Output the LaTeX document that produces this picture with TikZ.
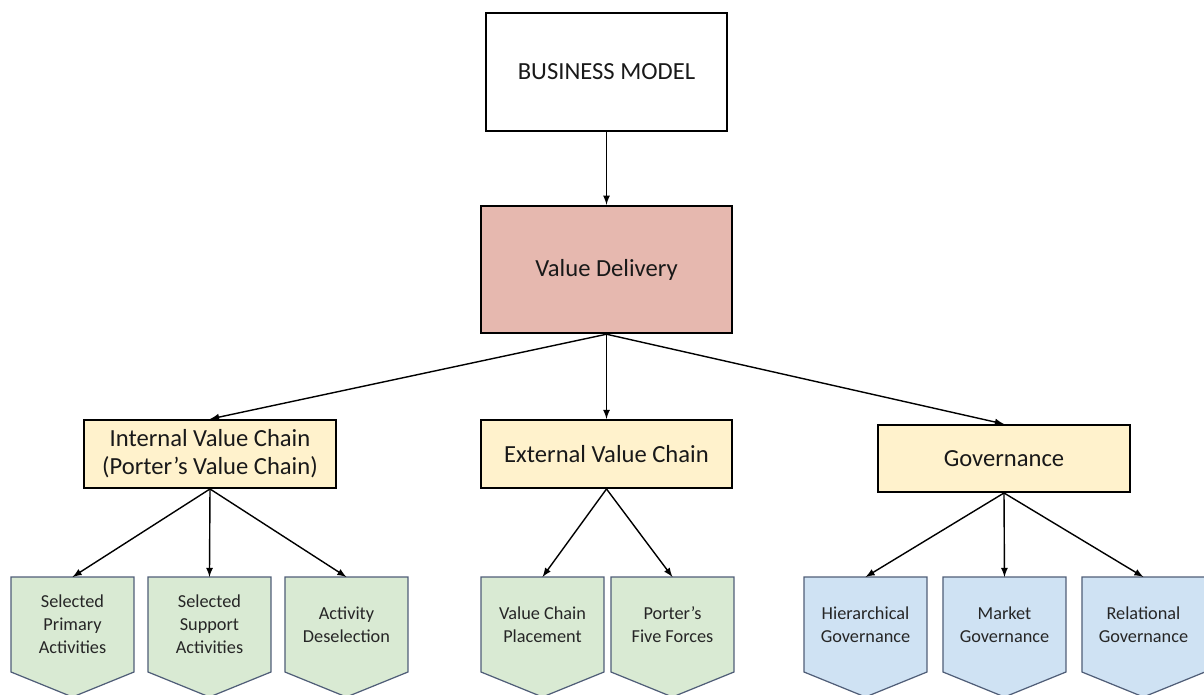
\documentclass[tikz,border=0pt]{standalone}
\usepackage{fontspec}
\setmainfont{Carlito}
\usetikzlibrary{calc,positioning,backgrounds}
\definecolor{vdred}{HTML}{E6B8AF}
\definecolor{chainyellow}{HTML}{FFF2CC}
\definecolor{leafgreen}{HTML}{D9EAD3}
\definecolor{leafblue}{HTML}{CFE2F3}
\definecolor{leafline}{RGB}{80,94,120}
\newcommand{\bigtxt}{\fontsize{14}{16}\selectfont}
\newcommand{\smalltxt}{\fontsize{10.4}{13.2}\selectfont}

\begin{document}
\begin{tikzpicture}[x=0.02cm,y=-0.02cm,
    box/.style={draw,rectangle,align=center,font=\bigtxt,text=black!90,inner sep=2pt},
    leaf/.style={rectangle,align=center,font=\smalltxt,text=black!85,
      minimum width=2.46cm,minimum height=1.9cm,inner sep=1pt,outer sep=0pt},
    link/.style={->,>=latex,line width=0.8pt}]
    \useasboundingbox (0,0) rectangle (1204,694);

    \node[box,minimum width=4.82cm,minimum height=2.36cm,line width=0.8pt] (bm) at (606.5,72) {BUSINESS MODEL};
    \node[box,fill=vdred,minimum width=5.02cm,minimum height=2.54cm,line width=1.4pt] (vd) at (606.5,269.5) {Value Delivery};

    \node[box,fill=chainyellow,minimum width=5.04cm,minimum height=1.36cm,line width=1.1pt] (ivc) at (210,454)
      {Internal Value Chain\\(Porter’s Value Chain)};
    \node[box,fill=chainyellow,minimum width=5.02cm,minimum height=1.36cm,line width=1.1pt] (evc) at (606.5,454)
      {External Value Chain};
    \node[box,fill=chainyellow,minimum width=5.04cm,minimum height=1.34cm,line width=1.1pt] (gov) at (1004,458.5)
      {Governance};

    % bottom row
    \node[leaf] (prim) at (72.5,624.5) {Selected\\Primary\\Activities};
    \node[leaf,right=0.28cm of prim] (supp) {Selected\\Support\\Activities};
    \node[leaf,right=0.28cm of supp] (desel) {Activity\\Deselection};
    \node[leaf] (place) at (542.5,624.5) {Value Chain\\Placement};
    \node[leaf,right=0.14cm of place] (forces) {Porter’s\\Five Forces};
    \node[leaf] (hier) at (865.5,624.5) {Hierarchical\\Governance};
    \node[leaf,right=0.32cm of hier] (market) {Market\\Governance};
    \node[leaf,right=0.32cm of market] (rel) {Relational\\Governance};

    \begin{scope}[on background layer]
      \foreach \n/\c in {prim/leafgreen,supp/leafgreen,desel/leafgreen,place/leafgreen,forces/leafgreen,
                          hier/leafblue,market/leafblue,rel/leafblue}
        \draw[fill=\c,draw=leafline,line width=0.7pt] (\n.north west) -- (\n.north east) -- (\n.south east)
          -- ($(\n.south)+(0,25)$) -- (\n.south west) -- cycle;
    \end{scope}

    \draw[link] (bm) -- (vd);
    \foreach \t in {ivc,evc,gov}
      \draw[link] (vd.south) -- (\t.north);
    \foreach \t in {prim,supp,desel}
      \draw[link] (ivc.south) -- (\t.north);
    \foreach \t in {place,forces}
      \draw[link] (evc.south) -- (\t.north);
    \foreach \t in {hier,market,rel}
      \draw[link] (gov.south) -- (\t.north);
\end{tikzpicture}
\end{document}
